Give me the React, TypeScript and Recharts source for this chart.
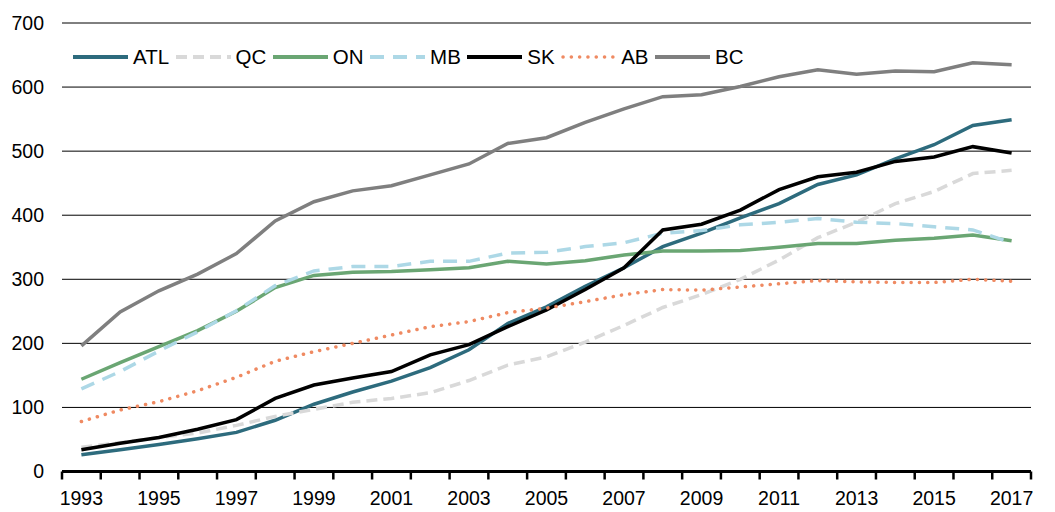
import { LineChart, Line, XAxis, YAxis, CartesianGrid, Legend } from "recharts";

const years = [
  "1993", "1994", "1995", "1996", "1997", "1998", "1999", "2000", "2001", "2002", "2003", "2004", "2005",
  "2006", "2007", "2008", "2009", "2010", "2011", "2012", "2013", "2014", "2015", "2016", "2017",
];

const atl = [26, 34, 42, 51, 61, 80, 105, 124, 141, 162, 190, 231, 257, 289, 318, 351, 372, 396, 418, 448, 463, 488, 510, 540, 549];
const qc = [38, 45, 53, 60, 72, 86, 97, 108, 114, 123, 142, 166, 179, 202, 228, 256, 276, 300, 330, 365, 389, 418, 437, 465, 470];
const on = [144, 170, 195, 220, 250, 287, 306, 311, 312, 315, 318, 328, 324, 329, 338, 344, 344, 345, 350, 356, 356, 361, 364, 369, 360];
const mb = [129, 156, 188, 218, 251, 290, 313, 320, 320, 328, 328, 341, 342, 351, 357, 372, 376, 385, 389, 395, 389, 387, 382, 377, 357];
const sk = [34, 44, 53, 66, 81, 114, 135, 146, 156, 182, 198, 226, 252, 284, 318, 377, 386, 408, 440, 460, 467, 484, 491, 507, 497];
const ab = [78, 96, 109, 126, 147, 172, 187, 200, 213, 226, 234, 248, 255, 265, 276, 284, 283, 288, 293, 298, 296, 295, 295, 300, 297];
const bc = [196, 249, 282, 308, 340, 391, 421, 438, 446, 463, 480, 512, 521, 545, 566, 585, 588, 601, 616, 627, 620, 625, 624, 638, 635];

const yTicks = [0, 100, 200, 300, 400, 500, 600, 700];

type Series = { key: string; values: number[]; color: string; dash?: string; dotted?: boolean };

const series: Series[] = [
  { key: "ATL", values: atl, color: "#2D6B7D" },
  { key: "QC", values: qc, color: "#D9D9D9", dash: "11 6" },
  { key: "ON", values: on, color: "#6AA673" },
  { key: "MB", values: mb, color: "#ADD8E6", dash: "14 9" },
  { key: "SK", values: sk, color: "#000000" },
  { key: "AB", values: ab, color: "#EF8A62", dash: "0.1 8.2", dotted: true },
  { key: "BC", values: bc, color: "#7F7F7F" },
];

const data = years.map((year, i) => {
  const row: Record<string, string | number> = { year };
  series.forEach((s) => (row[s.key] = s.values[i]));
  return row;
});

const FONT = "'Liberation Sans', Arial, Helvetica, sans-serif";
const W = 1055;
const H = 512;
const M = { top: 23, right: 24, left: 12, bottom: 10.5 };
const Y_W = 50;
const PAD = 19.38;
const STEP = (W - M.left - M.right - Y_W - 2 * PAD) / (years.length - 1);

function YearTick(props: any) {
  const { x, y, payload } = props;
  const i = payload?.index ?? props.index ?? 0;
  return (
    <g>
      <line x1={x - STEP / 2} x2={x - STEP / 2} y1={y} y2={y + 8} stroke="#000" strokeWidth={2.5} />
      {i === years.length - 1 && (
        <line x1={x + STEP / 2} x2={x + STEP / 2} y1={y} y2={y + 8} stroke="#000" strokeWidth={2.5} />
      )}
      {i % 2 === 0 && (
        <text x={x} y={y + 33.5} textAnchor="middle" fontSize={19.5} fill="#000" fontFamily={FONT}>
          {payload.value}
        </text>
      )}
    </g>
  );
}

function LegendRow() {
  return (
    <div style={{ display: "flex", alignItems: "center", height: 24, fontFamily: FONT, fontSize: 20.5, color: "#000" }}>
      {series.map((s) => (
        <div key={s.key} style={{ display: "flex", alignItems: "center", marginRight: 6.5 }}>
          <svg width={55} height={10} style={{ display: "block" }}>
            <line
              x1={s.dotted ? 2 : 0}
              x2={55}
              y1={5}
              y2={5}
              stroke={s.color}
              strokeWidth={s.dotted ? 3.5 : 4}
              strokeDasharray={s.dash}
              strokeLinecap={s.dotted ? "round" : "butt"}
            />
          </svg>
          <span style={{ marginLeft: 5, lineHeight: "24px" }}>{s.key}</span>
        </div>
      ))}
    </div>
  );
}

export default function App() {
  return (
    <div style={{ position: "absolute", left: 0, top: 0, width: W, height: H, background: "#fff" }}>
      <LineChart width={W} height={H} data={data} margin={M} style={{ fontFamily: FONT }}>
        <CartesianGrid vertical={false} stroke="#000" strokeWidth={1} />
        <XAxis
          dataKey="year"
          interval={0}
          padding={{ left: PAD, right: PAD }}
          height={30}
          tickSize={0}
          tickMargin={0}
          tickLine={false}
          axisLine={{ stroke: "#000", strokeWidth: 3 }}
          tick={<YearTick />}
        />
        <YAxis
          domain={[0, 700]}
          ticks={yTicks}
          width={Y_W}
          axisLine={false}
          tickLine={false}
          tickSize={0}
          tickMargin={18}
          tick={{ fontSize: 19.5, fill: "#000", fontFamily: FONT }}
        />
        <Legend
          layout="horizontal"
          verticalAlign="middle"
          align="center"
          wrapperStyle={{ top: 45, left: 73, width: "auto" }}
          content={() => <LegendRow />}
        />
        {series.map((s) => (
          <Line
            key={s.key}
            type="linear"
            dataKey={s.key}
            stroke={s.color}
            strokeWidth={3.5}
            strokeDasharray={s.dash}
            strokeLinecap={s.dotted ? "round" : "butt"}
            dot={false}
            activeDot={false}
            isAnimationActive={false}
          />
        ))}
      </LineChart>
    </div>
  );
}
